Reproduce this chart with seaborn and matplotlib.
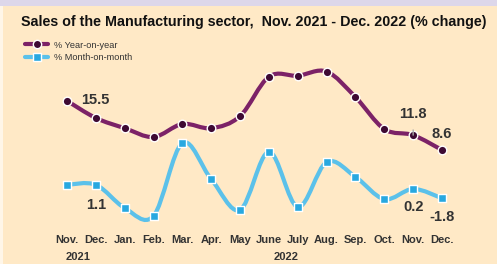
import matplotlib
matplotlib.use("Agg")
import matplotlib.pyplot as plt
from matplotlib.path import Path
from matplotlib.patches import PathPatch, Rectangle
from matplotlib.lines import Line2D
import numpy as np
import pandas as pd
import seaborn as sns

# Data
months = ["Nov.", "Dec.", "Jan.", "Feb.", "Mar.", "Apr.", "May",
          "June", "July", "Aug.", "Sep.", "Oct.", "Nov.", "Dec."]
yoy = [19.2, 15.5, 13.3, 11.4, 14.2, 13.3, 15.9,
       24.4, 24.6, 25.5, 20.0, 13.1, 11.8, 8.6]
mom = [1.1, 1.1, -3.9, -5.6, 10.1, 2.3, -4.3,
       8.2, -3.7, 6.0, 2.8, -2.0, 0.2, -1.8]
years = {"2021": 0.4, "2022": 7.6}

BG = "#FFE9C6"
PURPLE = "#7C2267"
PURPLE_DARK = "#3E0A33"
BLUE = "#5BC1EA"
BLUE_DARK = "#28A8E0"
TEXT = "#333333"

sns.set_theme(style="white")
plt.rcParams["font.family"] = ["Liberation Sans", "DejaVu Sans"]

df = pd.DataFrame({"idx": np.arange(len(months)), "yoy": yoy, "mom": mom})


def smooth_path(x, y):
    # Catmull-Rom through the points, drawn as cubic Bezier segments
    pts = np.column_stack([x, y]).astype(float)
    ext = np.vstack([pts[0], pts, pts[-1]])
    verts = [pts[0]]
    codes = [Path.MOVETO]
    for i in range(1, len(ext) - 2):
        p0, p1, p2, p3 = ext[i - 1], ext[i], ext[i + 1], ext[i + 2]
        verts += [p1 + (p2 - p0) / 6, p2 - (p3 - p1) / 6, p2]
        codes += [Path.CURVE4] * 3
    return Path(verts, codes)


fig = plt.figure(figsize=(4.97, 2.64), dpi=100, facecolor=BG)
fig.patches.append(Rectangle((0, 1 - 6 / 264), 1, 6 / 264, transform=fig.transFigure,
                             facecolor="#DDD7EA", edgecolor="none"))
fig.patches.append(Rectangle((0, 0), 3 / 497, 1 - 6 / 264, transform=fig.transFigure,
                             facecolor="#FFF6E8", edgecolor="none"))

ax = fig.add_axes([40 / 497, 1 - 225 / 264, 430 / 497, 165 / 264])
ax.set_facecolor("none")
for s in ax.spines.values():
    s.set_visible(False)

ax.add_patch(PathPatch(smooth_path(df["idx"], df["yoy"]), fill=False,
                       edgecolor=PURPLE, lw=3.0, capstyle="round", zorder=2))
ax.add_patch(PathPatch(smooth_path(df["idx"], df["mom"]), fill=False,
                       edgecolor=BLUE, lw=3.0, capstyle="round", zorder=2))

sns.scatterplot(data=df, x="idx", y="yoy", ax=ax, marker="o", s=38,
                color=PURPLE_DARK, edgecolor="white", linewidth=1.0, zorder=3)
sns.scatterplot(data=df, x="idx", y="mom", ax=ax, marker="s", s=40,
                color=BLUE_DARK, edgecolor="white", linewidth=1.0, zorder=3)

ax.set_xlim(-27 / 28.85, 13 + 28 / 28.85)
ax.set_ylim((189.9 - 225) / 4.64, (189.9 - 60) / 4.64)
ax.set_yticks([])
ax.set_xticks(range(len(months)))
ax.set_xticklabels(months, fontsize=8, fontweight="bold", color=TEXT)
ax.tick_params(axis="x", length=0, pad=7)
ax.set_xlabel("")
ax.set_ylabel("")

lab = dict(fontsize=10.5, fontweight="bold", color=TEXT, ha="center", va="center")
ax.annotate("15.5", (1, yoy[1]), xytext=(-1, 18), textcoords="offset pixels", **lab)
ax.annotate("1.1", (1, mom[1]), xytext=(0, -20), textcoords="offset pixels", **lab)
ax.annotate("11.8", (12, yoy[12]), xytext=(0, 21), textcoords="offset pixels",
            arrowprops=dict(arrowstyle="-", color="#AAAAAA", lw=1, shrinkA=4, shrinkB=4),
            **lab)
ax.annotate("8.6", (13, yoy[13]), xytext=(0, 16), textcoords="offset pixels", **lab)
ax.annotate("0.2", (12, mom[12]), xytext=(0, -18), textcoords="offset pixels", **lab)
ax.annotate("-1.8", (13, mom[13]), xytext=(0, -19), textcoords="offset pixels", **lab)

for name, xpos in years.items():
    ax.annotate(name, (xpos, 0), xycoords=("data", "figure fraction"),
                xytext=(0, 7), textcoords="offset pixels",
                fontsize=8, fontweight="bold", color=TEXT, ha="center", va="center")

fig.text(21 / 497, 1 - 22 / 264,
         "Sales of the Manufacturing sector,  Nov. 2021 - Dec. 2022 (% change)",
         fontsize=10.3, fontweight="bold", color="#111111", ha="left", va="center")

handles = [
    Line2D([], [], color=PURPLE, lw=3, marker="o", markersize=6,
           markerfacecolor=PURPLE_DARK, markeredgecolor="white", markeredgewidth=1),
    Line2D([], [], color=BLUE, lw=3, marker="s", markersize=6,
           markerfacecolor=BLUE_DARK, markeredgecolor="white", markeredgewidth=1),
]
fig.legend(handles, ["% Year-on-year", "% Month-on-month"],
           loc="upper left", bbox_to_anchor=(20 / 497, 1 - 36 / 264),
           frameon=False, fontsize=6.6, handlelength=2.6, handletextpad=0.6,
           labelspacing=0.35, borderpad=0, labelcolor=TEXT)

fig.savefig("out.png", dpi=100, facecolor=BG)
